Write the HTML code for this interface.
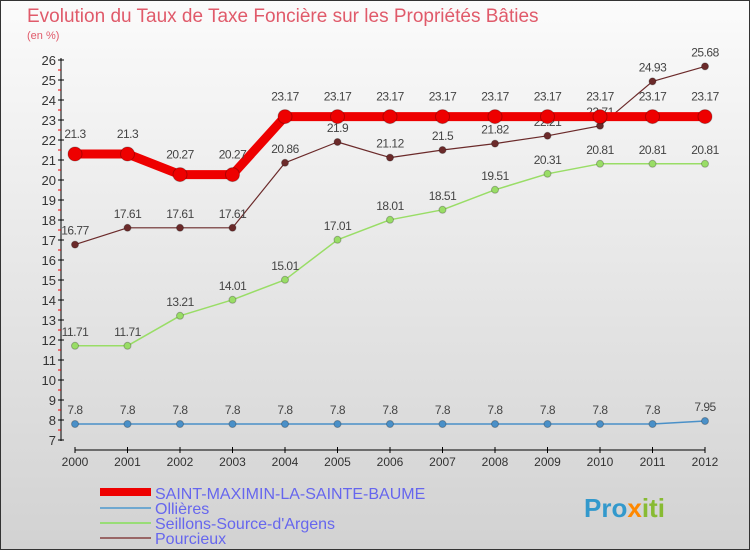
<!DOCTYPE html>
<html><head><meta charset="utf-8"><style>
body{margin:0}
svg text{font-family:"Liberation Sans",sans-serif}
</style></head><body>
<svg width="750" height="550" xmlns="http://www.w3.org/2000/svg" id="c">
<defs><linearGradient id="bg" x1="0" y1="0" x2="0" y2="1"><stop offset="0" stop-color="#fbfbfb"/><stop offset="1" stop-color="#d2d2d2"/></linearGradient></defs>
<rect x="0.5" y="0.5" width="749" height="549" fill="url(#bg)" stroke="#333"/>
<text x="27" y="22" font-size="19" fill="#e05a6a">Evolution du Taux de Taxe Foncière sur les Propriétés Bâties</text>
<text x="27" y="39" font-size="11" fill="#e05a6a">(en %)</text>
<g id="axes"></g><g id="series"></g>
<g>
<rect x="100" y="488" width="51" height="8" fill="#e00"/>
<text x="155" y="499" font-size="16" fill="#6666ee">SAINT-MAXIMIN-LA-SAINTE-BAUME</text>
<rect x="100" y="507" width="51" height="2" fill="#6fa8d0"/>
<text x="155" y="514" font-size="16" fill="#6666ee">Ollières</text>
<rect x="100" y="522" width="51" height="2" fill="#99dd77"/>
<text x="155" y="529" font-size="16" fill="#6666ee">Seillons-Source-d'Argens</text>
<rect x="100" y="537" width="51" height="2" fill="#996666"/>
<text x="155" y="544" font-size="16" fill="#6666ee">Pourcieux</text>
</g>
<text x="584" y="517" font-size="26" font-weight="bold"><tspan fill="#3399cc">Pro</tspan><tspan fill="#ff8800">x</tspan><tspan fill="#88bb33">iti</tspan></text>
</svg>
<script>
const years=[2000,2001,2002,2003,2004,2005,2006,2007,2008,2009,2010,2011,2012];
const saint=[21.3,21.3,20.27,20.27,23.17,23.17,23.17,23.17,23.17,23.17,23.17,23.17,23.17];
const ollieres=[7.8,7.8,7.8,7.8,7.8,7.8,7.8,7.8,7.8,7.8,7.8,7.8,7.95];
const seillons=[11.71,11.71,13.21,14.01,15.01,17.01,18.01,18.51,19.51,20.31,20.81,20.81,20.81];
const pourcieux=[16.77,17.61,17.61,17.61,20.86,21.9,21.12,21.5,21.82,22.21,22.71,24.93,25.68];
const yTicks=[7,8,9,10,11,12,13,14,15,16,17,18,19,20,21,22,23,24,25,26];
const NS="http://www.w3.org/2000/svg";
const X=i=>75+i*52.5, Y=v=>440-(v-7)*20;
function mk(tag,attrs,parent){const e=document.createElementNS(NS,tag);for(const k in attrs)e.setAttribute(k,attrs[k]);parent.appendChild(e);return e;}
const ax=document.getElementById('axes'), sg=document.getElementById('series');
let l=mk('line',{x1:61,y1:58,x2:61,y2:441,stroke:'#000'},ax);


yTicks.forEach(t=>{
 const y=Y(t);
 mk('line',{x1:58,x2:64,y1:y,y2:y,stroke:'#000'},ax);
 if(t<26) mk('line',{x1:58,x2:61,y1:y-10,y2:y-10,stroke:'#e00'},ax);
 const tx=mk('text',{x:56,y:y+5,'font-size':13,fill:'#333','text-anchor':'end'},ax);tx.textContent=t;
 
 
});
l=mk('line',{x1:75,y1:450,x2:705,y2:450,stroke:'#000'},ax);


years.forEach((yr,i)=>{
 mk('line',{x1:X(i),x2:X(i),y1:447,y2:453,stroke:'#000'},ax);
 const tx=mk('text',{x:X(i),y:466,'font-size':12,fill:'#333','text-anchor':'middle'},ax);tx.textContent=yr;
 
 
});
function series(vals,color,w,r,name,off){
 const g=mk('g',{},sg);
 
 
 mk('polyline',{points:vals.map((v,i)=>X(i)+','+Y(v)).join(' '),fill:'none',stroke:color,'stroke-width':w,'stroke-linejoin':'round'},g);
 vals.forEach((v,i)=>{
  const c=mk('circle',{cx:X(i),cy:Y(v),r:r,fill:color,stroke:'rgba(0,0,0,0.25)'},g);
  
  
  const t=mk('text',{x:X(i),y:Y(v)-off,'font-size':12,fill:'#444','text-anchor':'middle','letter-spacing':'-0.5'},g);
  t.textContent=String(v);
 });
}
series(ollieres,'#4a90c8',1.5,3.5,'ollieres-line',10);
series(seillons,'#99dd66',1.5,3.5,'seillons-line',10);
series(pourcieux,'#6b2a2a',1.2,3.5,'pourcieux-line',10);
series(saint,'#ee0000',9,7,'saint-maximin-line',16);
</script>
</body></html>
